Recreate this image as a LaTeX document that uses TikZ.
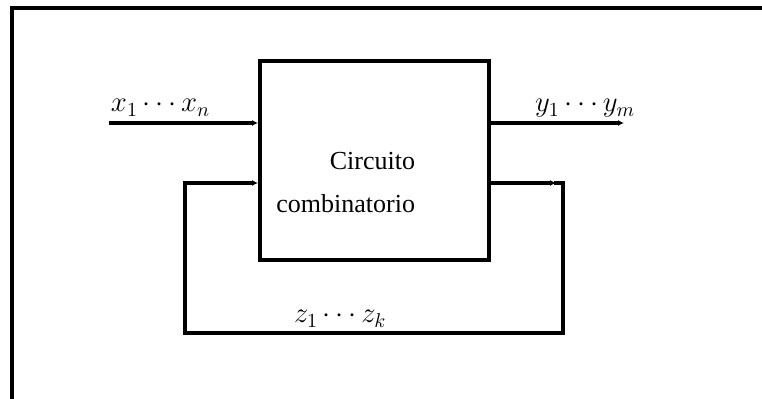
\documentclass[tikz,border=0pt]{standalone}
\usepackage{fontspec}
\setmainfont{Liberation Serif}
\usetikzlibrary{arrows.meta}
\begin{document}
\begin{tikzpicture}[x=0.5pt,y=-0.5pt, line width=2pt,
  arr/.style={-{Latex[length=3pt,width=3pt]}},
  lbl/.style={font=\fontsize{13}{15}\selectfont, inner sep=0pt},
  mlbl/.style={font=\fontsize{13.7}{16}\selectfont, inner sep=0pt}]
\useasboundingbox (0,0) rectangle (762,399);
\draw[line cap=rect] (12,399) -- (12,8) -- (762,8);
\node[draw, minimum width=114.5pt, minimum height=99.5pt, inner sep=0pt] (box) at (374.5,160.5) {};
\node[lbl, anchor=base east] (t1) at (417,170) {Circuito};
\node[lbl, anchor=base east] (t2) at (417,213) {combinatorio};
\coordinate (xin) at (109,123);
\coordinate (yout) at (624,123);
\coordinate (ftip) at (556,183);
\coordinate (fr) at (563,183);
\coordinate (fbr) at (563,333);
\coordinate (fbl) at (185,333);
\coordinate (fl) at (185,183);
\draw[arr] (xin) -- (xin -| box.west);
\draw[arr] (yout -| box.east) -- (yout);
\draw[arr] (ftip -| box.east) -- (ftip);
\draw[line cap=rect] (ftip) -- (fr) -- (fbr) -- (fbl) -- (fl);
\draw[arr] (fl) -- (fl -| box.west);
\node[mlbl, anchor=base west] (xl) at (109,112) {$x_1\cdots x_n$};
\node[mlbl, anchor=base west] (yl) at (533,112) {$y_1\cdots y_m$};
\node[mlbl, anchor=base west] (zl) at (292,323) {$z_1\cdots z_k$};
\end{tikzpicture}
\end{document}
